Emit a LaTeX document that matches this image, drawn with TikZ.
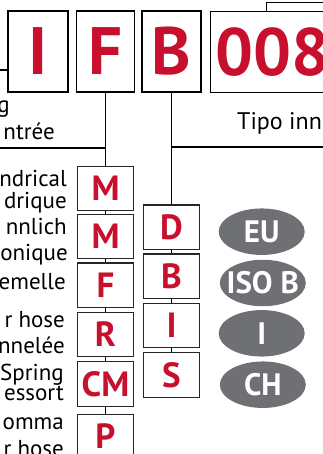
\documentclass[tikz,border=0pt]{standalone}
\usepackage{fontspec}
\setmainfont{PT Sans}
\usetikzlibrary{backgrounds,shapes.geometric}
\definecolor{codered}{RGB}{200,16,46}
\definecolor{pillgray}{RGB}{110,112,116}
\begin{document}
\begin{tikzpicture}[x=1pt,y=-1pt,
  bigbox/.style={draw=black,line width=1.2pt,fill=white,minimum height=81pt,inner ysep=0pt,inner xsep=0pt,font=\fontsize{67}{67}\selectfont\bfseries,text=codered},
  smallbox/.style={draw=black!85,line width=1.1pt,fill=white,minimum width=56pt,minimum height=44.5pt,inner sep=0pt,font=\fontsize{35}{35}\selectfont\bfseries,text=codered},
  pill/.style={ellipse,fill=pillgray,minimum width=86pt,minimum height=46.5pt,inner sep=0pt,text=white,font=\fontsize{31}{31}\selectfont\bfseries},
  lbl/.style={anchor=base east,inner sep=0pt,font=\fontsize{23}{23}\selectfont},
  conn/.style={draw=black,line width=1.2pt}]
\useasboundingbox (0,0) rectangle (323,454);
\clip (0,0) rectangle (323,454);
% top code boxes
\node[bigbox,minimum width=60pt] (I) at (38,51.5) {I};
\node[bigbox,minimum width=58pt] (F) at (105.5,51.5) {F};
\node[bigbox,minimum width=59pt] (B) at (171.5,51.5) {B};
\node[bigbox,anchor=north west,inner xsep=5pt] (N) at (210,11) {008};
% F column
\node[smallbox] (c1) at (105.5,188.4) {M};
\node[smallbox] (c2) at (105.5,236.5) {M};
\node[smallbox] (c3) at (105.5,285.2) {F};
\node[smallbox] (c4) at (105.5,334.4) {R};
\node[smallbox] (c5) at (105.5,384) {CM};
\node[smallbox] (c6) at (105.5,436.3) {P};
% D column
\node[smallbox] (d1) at (171.5,227.2) {D};
\node[smallbox] (d2) at (171.5,276.2) {B};
\node[smallbox] (d3) at (171.5,325.3) {I};
\node[smallbox] (d4) at (171.5,375) {S};
% pills
\node[pill] (p1) at (261.7,231.7) {\makebox[0pt]{EU}};
\node[pill] (p2) at (262.8,283) {\makebox[0pt]{ISO B}};
\node[pill] (p3) at (261.7,333.3) {\makebox[0pt]{I}};
\node[pill] (p4) at (262.8,384.7) {\makebox[0pt]{CH}};
% labels
\node[lbl] (t0) at (10,113) {g};
\node[lbl] (t1) at (55,139.5) {ntrée};
\node[lbl] (t2) at (67,186.7) {ndrical};
\node[lbl] (t3) at (67,208.3) {drique};
\node[lbl] (t4) at (67,234) {nnlich};
\node[lbl] (t5) at (68,260) {onique};
\node[lbl] (t6) at (66,289) {emelle};
\node[lbl] (t7) at (65,327) {r hose};
\node[lbl] (t8) at (65,353) {nnelée};
\node[lbl] (t9) at (64,380) {Spring};
\node[lbl] (t10) at (64,400.7) {essort};
\node[lbl] (t11) at (64,429) {omma};
\node[lbl] (t12) at (64,456) {r hose};
\node[anchor=base west,inner sep=0pt,font=\fontsize{24}{24}\selectfont] (tp) at (237,130) {Tipo inn};
% connectors
\coordinate (lI) at (0,70);
\coordinate (hF) at (0,148);
\coordinate (hB) at (330,147);
\coordinate (bot) at (105.5,470);
\coordinate (tN) at (266.7,2.7);
\coordinate (tR) at (330,2.7);
\begin{scope}[on background layer]
\draw[conn] (lI) -- (lI -| I.west);
\draw[conn] (F.south) -- (bot);
\draw[conn] (hF) -- (hF -| F.south);
\draw[conn] (B.south) -- (d4.north);
\draw[conn] (hB) -- (hB -| B.south);
\draw[conn] (tR) -- (tN) -- (tN |- N.north);
\end{scope}
\end{tikzpicture}
\end{document}
